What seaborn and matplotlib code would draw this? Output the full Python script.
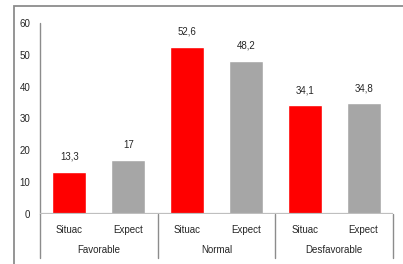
import pandas as pd
import seaborn as sns
import matplotlib.pyplot as plt
from matplotlib.patches import Rectangle
from matplotlib.transforms import blended_transform_factory

# -------------------------------------------------------------------
# Data
# -------------------------------------------------------------------
groups = ["Favorable", "Normal", "Desfavorable"]
series = ["Situac", "Expect"]
situac = [13.3, 52.6, 34.1]
expect = [17, 48.2, 34.8]
y_ticks = [0, 10, 20, 30, 40, 50, 60]

df = pd.DataFrame({
    "group": groups * 2,
    "series": [series[0]] * 3 + [series[1]] * 3,
    "value": situac + expect,
})

colors = ["#FF0000", "#A6A6A6"]


def fmt(v):
    # comma as decimal separator, integers without decimals
    if float(v).is_integer():
        return str(int(v))
    return f"{v:.1f}".replace(".", ",")


# -------------------------------------------------------------------
# Figure
# -------------------------------------------------------------------
sns.set_style("white")
plt.rcParams["font.family"] = ["Liberation Sans", "DejaVu Sans"]

W, H = 403, 264
fig = plt.figure(figsize=(W / 100, H / 100), dpi=100)
ax = fig.add_axes([40 / W, 1 - 214 / H, (393 - 40) / W, (214 - 23) / H])

# outer chart frame
fig.patches.append(Rectangle((14 / W, -0.1), 1.2, 1 - 6 / H + 0.1,
                             transform=fig.transFigure, fill=False,
                             edgecolor="#8C8C8C", linewidth=1.3))

sns.barplot(data=df, x="group", y="value", hue="series", order=groups,
            hue_order=series, palette=colors, width=1.0, gap=0.42,
            legend=False, ax=ax, saturation=1)

ax.set_xlim(-0.5, 2.5)
ax.set_ylim(0, 60)
ax.set_yticks(y_ticks)
ax.set_yticklabels([str(t) for t in y_ticks], fontsize=7)
ax.tick_params(axis="y", length=0, pad=7)
ax.set_xticks([])
ax.set_xlabel("")
ax.set_ylabel("")

for side in ["top", "right", "bottom", "left"]:
    ax.spines[side].set_visible(False)

# baseline
ax.axhline(0, color="#BFBFBF", linewidth=1.6, zorder=3)

# value labels
for cont in ax.containers:
    ax.bar_label(cont, labels=[fmt(b.get_height()) for b in cont],
                 padding=7, fontsize=7)

# category axis: sub labels, group labels and separators
trans = blended_transform_factory(ax.transData, ax.transAxes)
for i, g in enumerate(groups):
    for j, s in enumerate(series):
        ax.text(i - 0.25 + 0.5 * j, -0.085, s, transform=trans,
                ha="center", va="center", fontsize=7)
    ax.text(i, -0.19, g, transform=trans, ha="center", va="center",
            fontsize=7)
for xs in [-0.5, 0.5, 1.5, 2.5]:
    ax.plot([xs, xs], [0, -0.23], transform=trans, color="#8C8C8C",
            linewidth=1, clip_on=False)

# value axis line
ax.plot([-0.5, -0.5], [0, 1], transform=trans, color="#8C8C8C",
        linewidth=1, clip_on=False)

fig.savefig("out.png", dpi=100)
